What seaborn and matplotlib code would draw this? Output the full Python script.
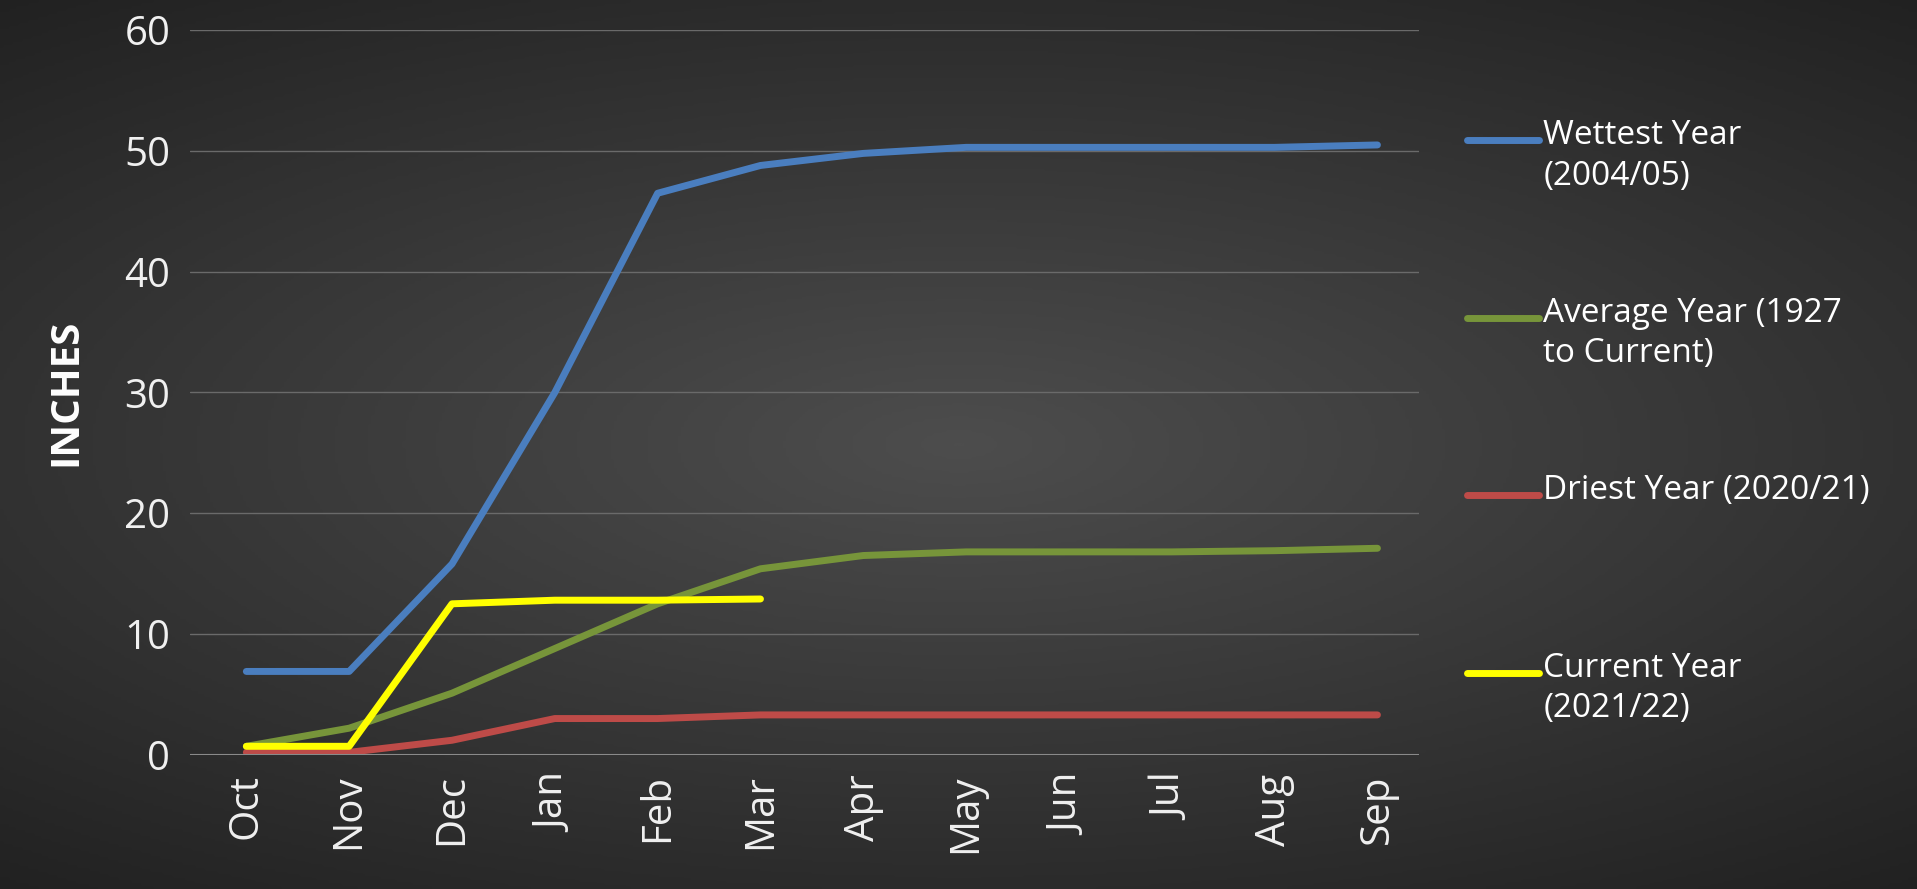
import numpy as np
import pandas as pd
import matplotlib
matplotlib.use("Agg")
import matplotlib.pyplot as plt
import seaborn as sns
from matplotlib.lines import Line2D

months = ["Oct", "Nov", "Dec", "Jan", "Feb", "Mar", "Apr", "May", "Jun", "Jul", "Aug", "Sep"]
wettest = [6.9, 6.9, 15.8, 30.0, 46.5, 48.8, 49.8, 50.3, 50.3, 50.3, 50.3, 50.5]
average = [0.7, 2.2, 5.1, 8.8, 12.5, 15.4, 16.5, 16.8, 16.8, 16.8, 16.9, 17.1]
driest = [0.2, 0.2, 1.2, 3.0, 3.0, 3.3, 3.3, 3.3, 3.3, 3.3, 3.3, 3.3]
current = [0.7, 0.7, 12.5, 12.8, 12.8, 12.9]

labels = ["Wettest Year\n(2004/05)", "Average Year (1927\nto Current)",
          "Driest Year (2020/21)", "Current Year\n(2021/22)"]
colors = ["#4a7ebf", "#77953a", "#be4b48", "#ffff00"]
series = [wettest, average, driest, current]

sns.set_theme(style="dark")
plt.rcParams['font.family'] = ['Open Sans', 'DejaVu Sans']

fig = plt.figure(figsize=(19.17, 8.89), dpi=100)

# radial dark background
bg = fig.add_axes([0, 0, 1, 1], zorder=-10)
yy, xx = np.mgrid[-1:1:300j, -1:1:600j]
r = np.sqrt((xx * 0.9) ** 2 + (yy * 1.1) ** 2)
bg.imshow(r, cmap=matplotlib.colors.LinearSegmentedColormap.from_list("g", ["#4d4d4d", "#1f1f1f"]),
          aspect="auto", extent=[0, 1, 0, 1], vmin=0, vmax=1.5)
bg.axis("off")

ax = fig.add_axes([0.099, 0.151, 0.641, 0.815])
ax.patch.set_alpha(0)
x = np.arange(len(months))
for vals, c in zip(series, colors):
    sns.lineplot(x=x[:len(vals)], y=vals, color=c, linewidth=5, ax=ax)

ax.set_xlim(-0.55, 11.4)
ax.set_ylim(0, 60)
ax.set_yticks(range(0, 61, 10))
ax.set_xticks(x)
ax.set_xticklabels(months, rotation=90)
ax.tick_params(colors="#f0f0f0", labelsize=29, length=0, pad=14)
ax.yaxis.grid(True, color="#6a6a6a", linewidth=1)
ax.xaxis.grid(False)
for s in ax.spines.values():
    s.set_visible(False)
ax.axhline(0, color="#8a8a8a", linewidth=1.5)
ax.set_ylabel("INCHES", color="white", fontsize=29, fontweight="bold", labelpad=28)

# legend on the right
ys = [0.842, 0.642, 0.443, 0.243]
for lab, c, yv in zip(labels, colors, ys):
    fig.add_artist(Line2D([0.765, 0.803], [yv, yv], color=c, linewidth=5, transform=fig.transFigure))
    fig.text(0.805, yv + 0.024, lab, color="white", fontsize=24, va="top", ha="left", linespacing=1.3)

fig.savefig("out.png", dpi=100)
